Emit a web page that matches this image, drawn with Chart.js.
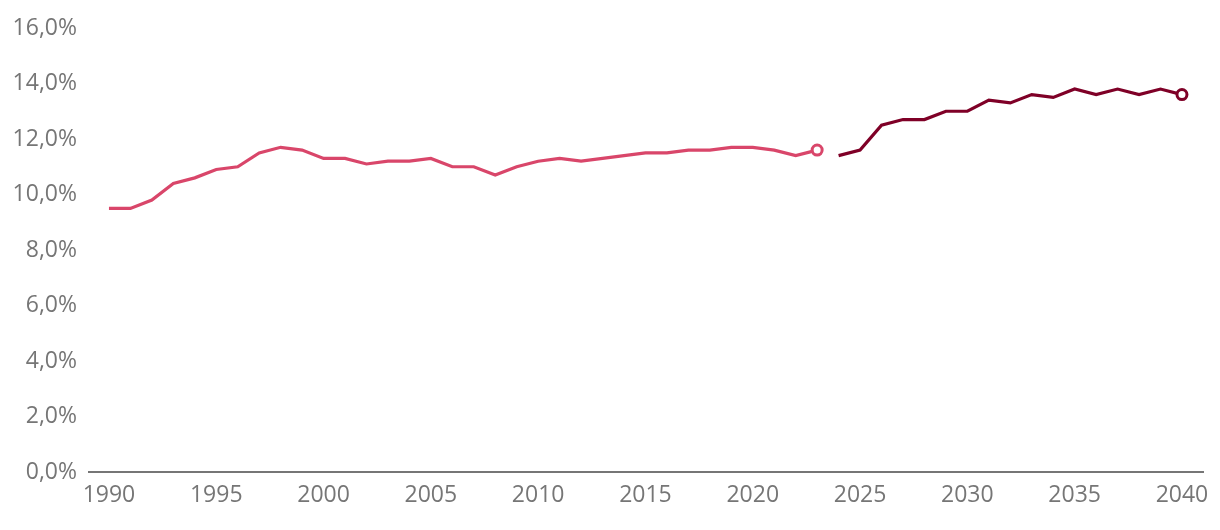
<!DOCTYPE html>
<html>
<head>
<meta charset="utf-8">
<style>
  html, body { margin: 0; padding: 0; background: #fff; }
  #wrap { width: 1220px; height: 530px; position: relative; }
</style>
<script src="https://cdn.jsdelivr.net/npm/chart.js@4/dist/chart.umd.min.js"></script>
</head>
<body>
<div id="wrap"><canvas id="chart"></canvas></div>
<script>
// ── Data ────────────────────────────────────────────────────────────────
const histYears = [1990, 1991, 1992, 1993, 1994, 1995, 1996, 1997, 1998, 1999,
                   2000, 2001, 2002, 2003, 2004, 2005, 2006, 2007, 2008, 2009,
                   2010, 2011, 2012, 2013, 2014, 2015, 2016, 2017, 2018, 2019,
                   2020, 2021, 2022, 2023];
const histValues = [9.5, 9.5, 9.8, 10.4, 10.6, 10.9, 11.0, 11.5, 11.7, 11.6,
                    11.3, 11.3, 11.1, 11.2, 11.2, 11.3, 11.0, 11.0, 10.7, 11.0,
                    11.2, 11.3, 11.2, 11.3, 11.4, 11.5, 11.5, 11.6, 11.6, 11.7,
                    11.7, 11.6, 11.4, 11.6];
const forecastYears = [2024, 2025, 2026, 2027, 2028, 2029, 2030, 2031, 2032,
                       2033, 2034, 2035, 2036, 2037, 2038, 2039, 2040];
const forecastValues = [11.4, 11.6, 12.5, 12.7, 12.7, 13.0, 13.0, 13.4, 13.3,
                        13.6, 13.5, 13.8, 13.6, 13.8, 13.6, 13.8, 13.6];
const xTickYears = [1990, 1995, 2000, 2005, 2010, 2015, 2020, 2025, 2030, 2035, 2040];

const PINK = '#d9466a';
const DARK = '#7f0027';
const GREY = '#767676';

const toPoints = (xs, ys) => xs.map((x, i) => ({ x, y: ys[i] }));
const lastOnly = (r) => (ctx) => ctx.dataIndex === ctx.dataset.data.length - 1 ? r : 0;

function lineSet(data, color) {
  return {
    data,
    borderColor: color,
    borderWidth: 3.2,
    tension: 0,
    fill: false,
    pointRadius: lastOnly(5),
    pointHoverRadius: lastOnly(5),
    pointBackgroundColor: '#fff',
    pointBorderColor: color,
    pointBorderWidth: 3,
  };
}

new Chart(document.getElementById('chart'), {
  type: 'line',
  data: {
    datasets: [
      lineSet(toPoints(histYears, histValues), PINK),
      lineSet(toPoints(forecastYears, forecastValues), DARK),
    ],
  },
  options: {
    responsive: true,
    maintainAspectRatio: false,
    animation: false,
    layout: { padding: { top: 28, right: 17, left: 0, bottom: 0 } },
    plugins: { legend: { display: false }, tooltip: { enabled: false } },
    scales: {
      x: {
        type: 'linear',
        min: 1989.07,
        max: 2040.98,
        afterBuildTicks: (scale) => { scale.ticks = xTickYears.map(v => ({ value: v })); },
        afterFit: (scale) => { scale.height = 58; },
        grid: { display: false, drawTicks: false },
        border: { display: true, color: GREY, width: 2 },
        ticks: {
          color: GREY,
          font: { family: '"Open Sans", sans-serif', size: 23 },
          padding: 10,
          maxRotation: 0,
          autoSkip: false,
          callback: (v) => String(v),
        },
      },
      y: {
        min: 0,
        max: 16,
        afterFit: (scale) => { scale.width = 89; },
        grid: { display: false, drawTicks: false },
        border: { display: false },
        ticks: {
          stepSize: 2,
          color: GREY,
          font: { family: '"Open Sans", sans-serif', size: 23 },
          padding: 12,
          callback: (v) => v.toFixed(1).replace('.', ',') + '%',
        },
      },
    },
  },
});
</script>
</body>
</html>
